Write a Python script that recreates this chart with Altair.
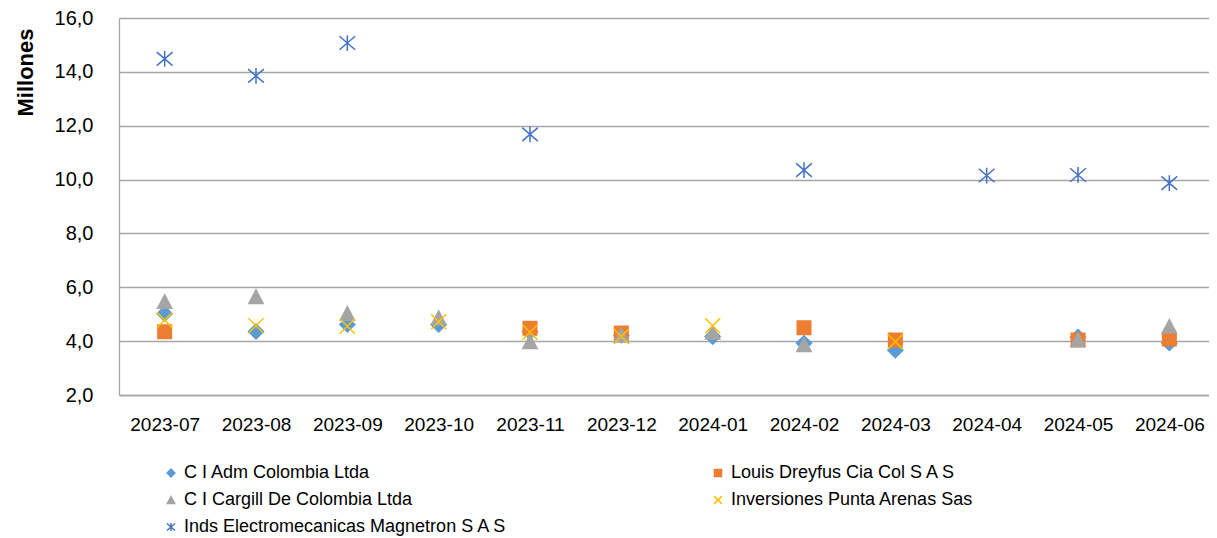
import altair as alt
import pandas as pd

months = ["2023-07", "2023-08", "2023-09", "2023-10", "2023-11", "2023-12",
          "2024-01", "2024-02", "2024-03", "2024-04", "2024-05", "2024-06"]

series_names = [
    "C I Adm Colombia Ltda",
    "Louis Dreyfus Cia Col S A S",
    "C I Cargill De Colombia Ltda",
    "Inversiones Punta Arenas Sas",
    "Inds Electromecanicas Magnetron S A S",
]
# legend order (column-major fill of a 2-column legend)
legend_order = [series_names[0], series_names[2], series_names[4],
                series_names[1], series_names[3]]

adm = [5.02, 4.36, 4.62, 4.62, 4.35, 4.22, 4.17, 3.92, 3.66, None, 4.15, 3.93]
louis = [4.35, None, None, None, 4.48, 4.30, None, 4.50, 4.04, None, 4.04, 4.08]
cargill = [5.47, 5.65, 5.03, 4.87, 3.98, 4.22, 4.33, 3.87, None, None, 4.05, 4.55]
inversiones = [4.78, 4.57, 4.55, 4.72, 4.33, 4.17, 4.57, None, 3.98, None, None, None]
magnetron = [14.48, 13.85, 15.07, None, 11.68, None, None, 10.35, None, 10.15, 10.17, 9.87]

color_map = {
    series_names[0]: "#5B9BD5",
    series_names[1]: "#ED7D31",
    series_names[2]: "#A5A5A5",
    series_names[3]: "#FFC000",
    series_names[4]: "#4472C4",
}
shape_map = {
    series_names[0]: "M0,-1L1,0L0,1L-1,0Z",
    series_names[1]: "M-0.9,-0.9L0.9,-0.9L0.9,0.9L-0.9,0.9Z",
    series_names[2]: "M0,-0.9L0.95,0.9L-0.95,0.9Z",
    series_names[3]: "M-1,-1L1,1M-1,1L1,-1",
    series_names[4]: "M-1.05,-0.9L1.05,0.9M-1.05,0.9L1.05,-0.9M0,-1.05L0,1.05",
}
colors = [color_map[s] for s in legend_order]
shapes = [shape_map[s] for s in legend_order]

rows = []
for name, vals in zip(series_names, [adm, louis, cargill, inversiones, magnetron]):
    for m, v in zip(months, vals):
        if v is not None:
            rows.append({"month": m, "series": name, "value": v})
df = pd.DataFrame(rows)

FONT = "Liberation Sans"

legend = alt.Legend(
    title=None, orient="none", legendX=43, legendY=446, columns=2,
    columnPadding=201, rowPadding=9, symbolSize=60, symbolStrokeWidth=1.5,
    labelFont=FONT, labelFontSize=18, labelColor="#000000", labelOffset=4,
    labelLimit=500, padding=0,
)

chart = alt.Chart(df).mark_point(filled=True, opacity=1, size=225, strokeWidth=1.5).encode(
    x=alt.X("month:N", sort=months,
            scale=alt.Scale(domain=months, padding=0.5, range=[0, 1096]),
            axis=alt.Axis(title=None, labelAngle=0, ticks=False, labelPadding=20,
                          labelFontSize=19, grid=False)),
    y=alt.Y("value:Q", scale=alt.Scale(domain=[2, 16], nice=False, zero=False),
            axis=alt.Axis(title="Millones", values=[2, 4, 6, 8, 10, 12, 14, 16],
                          labelExpr="replace(format(datum.value, '.1f'), '.', ',')",
                          ticks=False, labelPadding=26, labelFontSize=20,
                          titleFontSize=22, titleFontWeight="bold",
                          titleAnchor="end", titleAlign="right", titleAngle=-90,
                          titleX=-94, titleY=10, titleBaseline="middle", grid=True)),
    color=alt.Color("series:N", scale=alt.Scale(domain=legend_order, range=colors), legend=legend),
    stroke=alt.Stroke("series:N", scale=alt.Scale(domain=legend_order, range=colors), legend=legend),
    shape=alt.Shape("series:N", scale=alt.Scale(domain=legend_order, range=shapes), legend=legend),
).properties(
    width=1090, height=377,
    autosize=alt.AutoSizeParams(type="none"),
    padding={"left": 111, "top": 10, "right": 0, "bottom": 142},
).configure_view(stroke=None).configure_axis(
    labelFont=FONT, titleFont=FONT, labelColor="#000000", titleColor="#000000",
    domainColor="#A6A6A6", domainWidth=1.3, gridColor="#A6A6A6", gridWidth=1.3,
)

chart.save("out.html", embed_options={"renderer": "svg", "actions": False})
